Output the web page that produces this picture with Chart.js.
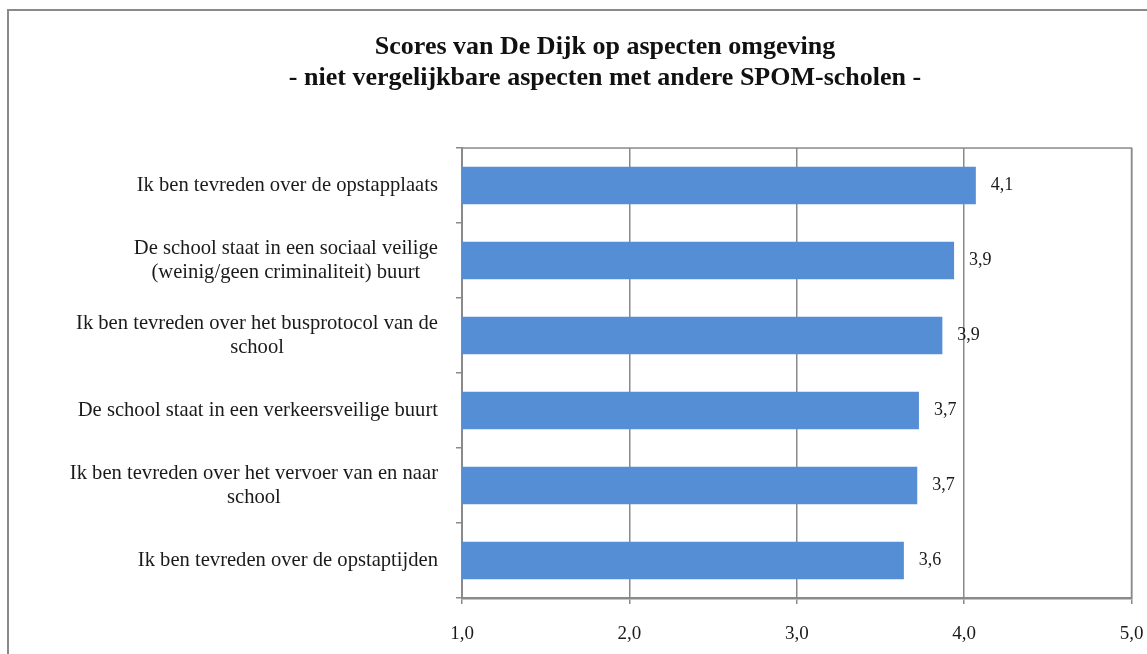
<!DOCTYPE html>
<html>
<head>
<meta charset="utf-8">
<script src="https://cdn.jsdelivr.net/npm/chart.js@4.4.1/dist/chart.umd.min.js"></script>
<style>
  html, body { margin: 0; padding: 0; background: #fff; overflow: hidden; }
  #wrap { position: relative; width: 1147px; height: 654px; }
  #frame { position: absolute; left: 7px; top: 9px; width: 2000px; height: 2000px; border: 2px solid #8a8a8a; }
  #graficaScores { position: absolute; left: 0; top: 0; }
</style>
</head>
<body>
<div id="wrap">
  <div id="frame"></div>
  <canvas id="graficaScores" width="1147" height="654"></canvas>
</div>
<script>
const titel = [
  "Scores van De Dijk op aspecten omgeving",
  "- niet vergelijkbare aspecten met andere SPOM-scholen -"
];

const aspecten = [
  ["Ik ben tevreden over de opstapplaats"],
  ["De school staat in een sociaal veilige", "(weinig/geen criminaliteit) buurt"],
  ["Ik ben tevreden over het busprotocol van de", "school"],
  ["De school staat in een verkeersveilige buurt"],
  ["Ik ben tevreden over het vervoer van en naar", "school"],
  ["Ik ben tevreden over de opstaptijden"]
];

const scores = [4.07, 3.94, 3.87, 3.73, 3.72, 3.64];

const asTicks = [1, 2, 3, 4, 5];

const grijs = "#8a8a8a";
const lettertype = "'Liberation Serif', 'Times New Roman', serif";

function komma(v) {
  return Number(v).toFixed(1).replace(".", ",");
}

// labels links van de as: blok rechts uitgelijnd, regels gecentreerd
const labelPlugin = {
  id: "aspectLabels",
  afterDraw(chart) {
    const ctx = chart.ctx;
    const yScale = chart.scales.y;
    const rechts = chart.chartArea.left - 24;
    const lh = 23.3;
    ctx.save();
    ctx.font = "20.6px " + lettertype;
    ctx.fillStyle = "#1a1a1a";
    ctx.textAlign = "center";
    ctx.textBaseline = "middle";
    aspecten.forEach((regels, i) => {
      const y = yScale.getPixelForValue(i);
      const breed = Math.max(...regels.map(r => ctx.measureText(r).width));
      const cx = rechts - breed / 2;
      const start = y - (regels.length - 1) * lh / 2;
      regels.forEach((r, j) => ctx.fillText(r, cx, start + j * lh));
    });
    ctx.restore();
  }
};

// waarden naast de balken
const waardePlugin = {
  id: "waarden",
  afterDatasetsDraw(chart) {
    const ctx = chart.ctx;
    const meta = chart.getDatasetMeta(0);
    ctx.save();
    ctx.font = "18px " + lettertype;
    ctx.fillStyle = "#1a1a1a";
    ctx.textAlign = "left";
    ctx.textBaseline = "middle";
    meta.data.forEach((bar, i) => {
      ctx.fillText(komma(scores[i]), bar.x + 15, bar.y);
    });
    ctx.restore();
  }
};

// rand rond het plotgebied
const randPlugin = {
  id: "plotRand",
  beforeDatasetsDraw(chart) {
    const { ctx, chartArea } = chart;
    ctx.save();
    ctx.strokeStyle = grijs;
    ctx.lineWidth = 1.5;
    ctx.strokeRect(chartArea.left, chartArea.top, chartArea.right - chartArea.left, chartArea.bottom - chartArea.top);
    ctx.restore();
  }
};

new Chart(document.getElementById("graficaScores"), {
  type: "bar",
  data: {
    labels: aspecten,
    datasets: [{
      label: "Score",
      data: scores,
      backgroundColor: "#558ed5",
      borderWidth: 0,
      categoryPercentage: 0.5,
      barPercentage: 1
    }]
  },
  options: {
    indexAxis: "y",
    responsive: false,
    animation: false,
    devicePixelRatio: 1,
    layout: { padding: { left: 78.5, right: 15.5, top: 0, bottom: 0 } },
    plugins: {
      legend: { display: false },
      tooltip: { enabled: false },
      title: {
        display: true,
        text: titel,
        color: "#111",
        font: { family: lettertype, size: 26, weight: "bold", lineHeight: 1.185 },
        padding: { top: 32, bottom: 54.4 }
      }
    },
    scales: {
      x: {
        min: 1,
        max: 5,
        afterBuildTicks(scale) {
          scale.ticks = asTicks.map(v => ({ value: v }));
        },
        afterFit(scale) {
          scale.height = 56;
          scale.paddingLeft = 0;
          scale.paddingRight = 0;
        },
        ticks: {
          color: "#1a1a1a",
          font: { family: lettertype, size: 19 },
          padding: 19,
          callback: v => komma(v)
        },
        grid: { color: grijs, lineWidth: 1.5, tickLength: 6, drawTicks: true },
        border: { display: true, color: grijs, width: 2.5 }
      },
      y: {
        afterFit(scale) { scale.width = 383.5; },
        ticks: { display: false },
        grid: { drawOnChartArea: false, drawTicks: true, tickLength: 6, color: grijs, lineWidth: 1.5 },
        border: { display: true, color: grijs, width: 2 }
      }
    }
  },
  plugins: [randPlugin, labelPlugin, waardePlugin]
});
</script>
</body>
</html>
